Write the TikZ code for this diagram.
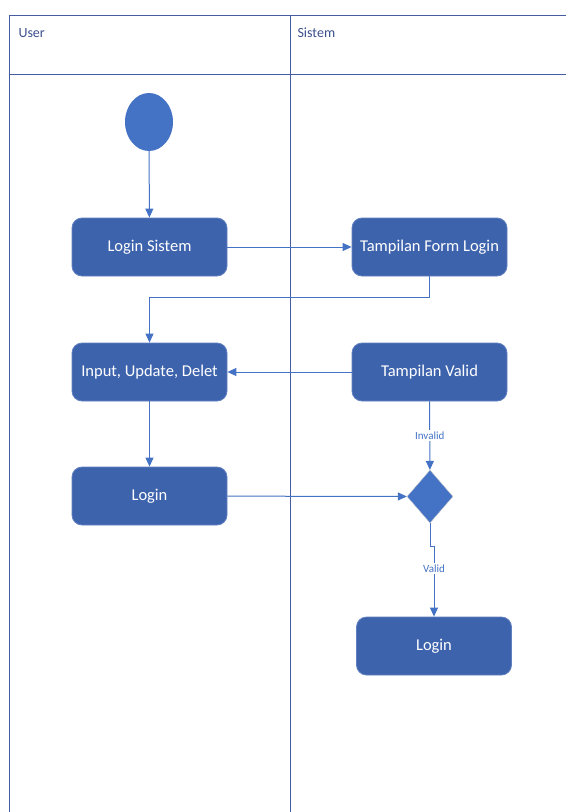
\documentclass[tikz,border=0pt]{standalone}
\usepackage{fontspec}
\setmainfont{Carlito}
\usetikzlibrary{arrows.meta}
\usetikzlibrary{shapes.geometric}
\definecolor{laneblue}{RGB}{70, 92, 160}
\definecolor{boxblue}{RGB}{62, 99, 173}
\definecolor{boxedge}{RGB}{96, 128, 192}
\definecolor{flowblue}{RGB}{68, 114, 196}
\definecolor{headtext}{RGB}{60, 80, 140}

\begin{document}
\begin{tikzpicture}[x=1pt, y=-1pt,
    act/.style={rectangle, rounded corners=10pt, fill=boxblue, draw=boxedge, line width=0.8pt,
                minimum width=155pt, minimum height=58pt, text=white, font=\fontsize{16.5}{19}\selectfont},
    flow/.style={flowblue, line width=1pt, -{Triangle[length=9pt,width=8pt]}},
    guard/.style={fill=white, text=flowblue, font=\fontsize{11}{13}\selectfont, inner sep=1.5pt},
    lane/.style={laneblue, line width=1pt}]
            \useasboundingbox (0,0) rectangle (566,812);
            % swimlanes
            \draw[lane] (566,15) -- (9,15) -- (9,812);
            \draw[lane] (9,74) -- (566,74);
            \draw[lane] (290,15) -- (290,812);
            \node[anchor=west, text=headtext, font=\fontsize{14}{16}\selectfont] (userlane)   at (15,33) {User};
            \node[anchor=west, text=headtext, font=\fontsize{14}{16}\selectfont] (sistemlane) at (294,33) {Sistem};
            % activities
            \node[ellipse, fill=flowblue, inner sep=0pt, minimum width=48pt, minimum height=58pt] (start) at (149,122) {};
            \node[act] (loginsistem) at (149.5,247) {Login Sistem};
            \node[act] (formlogin)   at (429.5,247) {Tampilan Form Login};
            \node[act] (input)       at (149.5,372) {Input, Update, Delet};
            \node[act] (valid)       at (429.5,372) {Tampilan Valid};
            \node[act] (loginuser)   at (149.5,496) {Login};
            \node[diamond, fill=flowblue, draw=gray!40, inner sep=0pt, minimum width=46pt, minimum height=53pt] (decision) at (430,496.5) {};
            \node[act] (loginsistem2) at (434,646) {Login};
            % flows
            \draw[flow] (start) -- (loginsistem);
            \draw[flow] (loginsistem) -- (formlogin);
            \draw[flow] (formlogin.south) -- ++(0,21) -| (input.north);
            \draw[flow] (valid) -- (input);
            \draw[flow] (input) -- (loginuser);
            \draw[flow] (loginuser) -- (decision);
            \draw[flow] (valid) -- node[guard] {Invalid} (decision);
            \draw[flow] (decision.south) -- ++(0,23) -| node[guard, pos=0.66] {Valid} (loginsistem2.north);
\end{tikzpicture}
\end{document}
